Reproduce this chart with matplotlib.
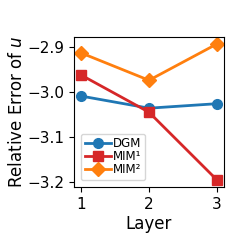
import matplotlib
matplotlib.use("Agg")
import matplotlib.pyplot as plt

layers = [1, 2, 3]
dgm = [-3.008, -3.035, -3.025]
mim1 = [-2.961, -3.044, -3.195]
mim2 = [-2.912, -2.973, -2.892]

fig = plt.figure(figsize=(2.49, 2.49), dpi=100)
ax = fig.add_axes([74 / 249, 62 / 249, 150 / 249, 150 / 249])

ax.plot(layers, dgm, marker='o', color='tab:blue', lw=2, ms=7, label='DGM')
ax.plot(layers, mim1, marker='s', color='tab:red', lw=2, ms=7, label='MIM¹')
ax.plot(layers, mim2, marker='D', color='tab:orange', lw=2, ms=7, label='MIM²')

ax.set_xticks(layers)
ax.set_yticks([-3.2, -3.1, -3.0, -2.9])
ax.tick_params(labelsize=11)
ax.set_xlabel('Layer', fontsize=12, labelpad=2)
ax.set_ylabel('Relative Error of $u$', fontsize=12, labelpad=1)

ax.legend(loc='lower left', fontsize=8.5, handlelength=2.2, handletextpad=0.2,
          labelspacing=0.0, borderpad=0.3, borderaxespad=0.6)

fig.savefig('out.png', dpi=100)
